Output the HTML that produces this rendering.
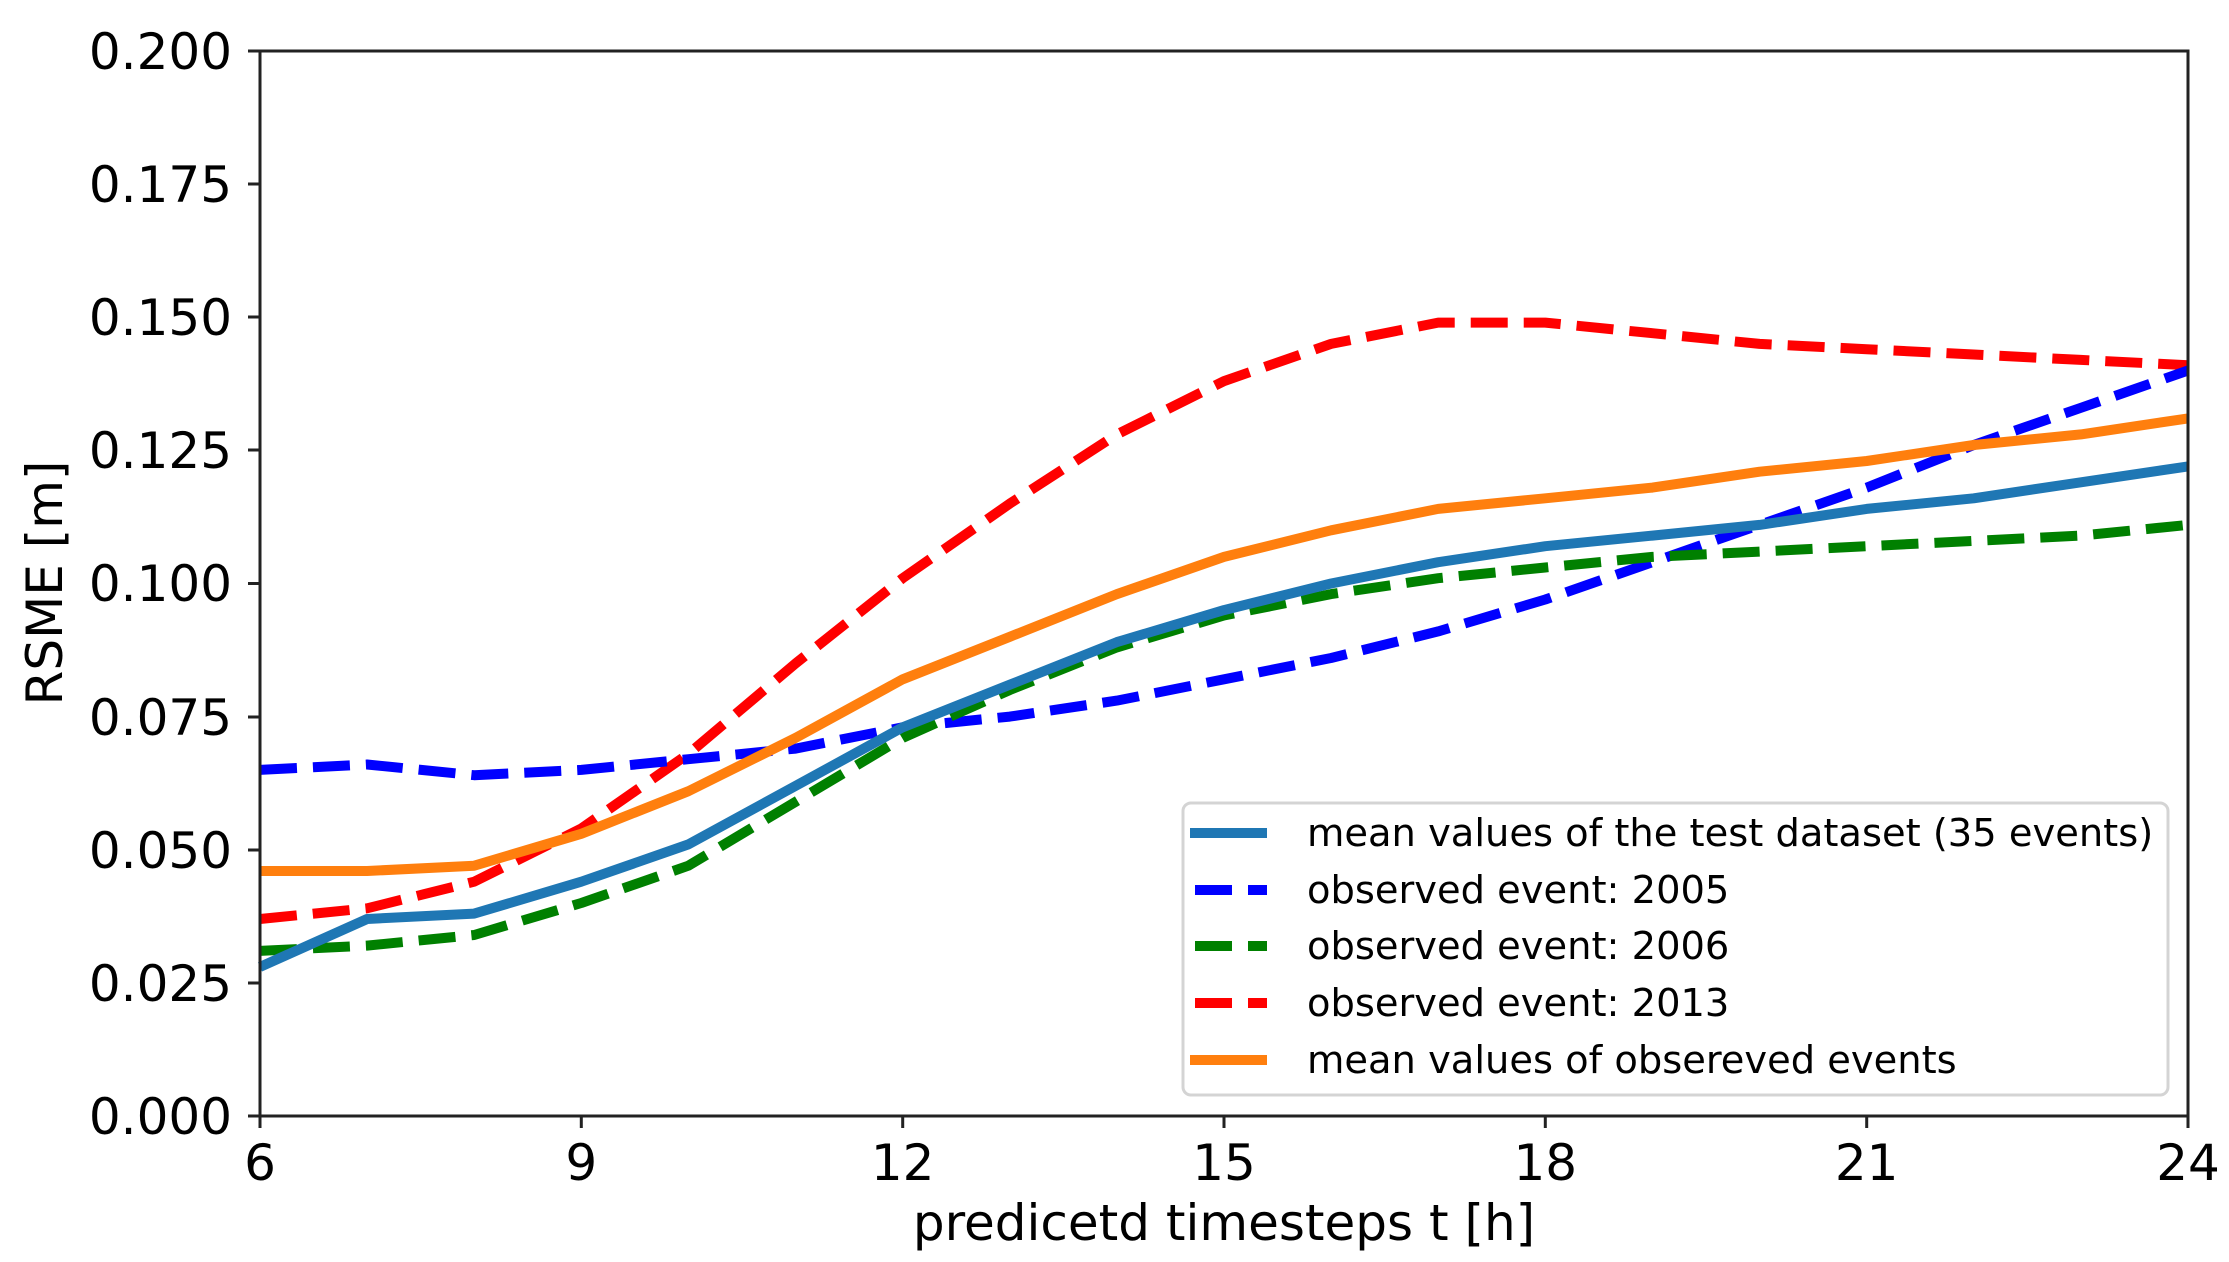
<!DOCTYPE html>
<html><head><meta charset="utf-8"><style>
html,body{margin:0;padding:0;background:#fff;}
svg{display:block;}
text{font-family:"DejaVu Sans","Liberation Sans",sans-serif;fill:#000;}
</style></head><body>
<svg id="s" width="2229" height="1262" viewBox="0 0 2229 1262" xmlns="http://www.w3.org/2000/svg">
<g id="series" fill="none" stroke-width="10"></g>
<rect x="260" y="51" width="1928" height="1065" fill="none" stroke="#222" stroke-width="3"/>
<g stroke="#222" stroke-width="3">
<line x1="248" y1="1116" x2="260" y2="1116"/><line x1="248" y1="983" x2="260" y2="983"/>
<line x1="248" y1="850" x2="260" y2="850"/><line x1="248" y1="717" x2="260" y2="717"/>
<line x1="248" y1="583.5" x2="260" y2="583.5"/><line x1="248" y1="450" x2="260" y2="450"/>
<line x1="248" y1="317" x2="260" y2="317"/><line x1="248" y1="184" x2="260" y2="184"/>
<line x1="248" y1="51" x2="260" y2="51"/>
<line x1="260" y1="1116" x2="260" y2="1128"/><line x1="581.3" y1="1116" x2="581.3" y2="1128"/>
<line x1="902.7" y1="1116" x2="902.7" y2="1128"/><line x1="1224" y1="1116" x2="1224" y2="1128"/>
<line x1="1545.3" y1="1116" x2="1545.3" y2="1128"/><line x1="1866.7" y1="1116" x2="1866.7" y2="1128"/>
<line x1="2188" y1="1116" x2="2188" y2="1128"/>
</g>
<g font-size="50" text-anchor="end">
<text x="232" y="1134">0.000</text><text x="232" y="1001">0.025</text>
<text x="232" y="868">0.050</text><text x="232" y="735">0.075</text>
<text x="232" y="601">0.100</text><text x="232" y="468">0.125</text>
<text x="232" y="335">0.150</text><text x="232" y="202">0.175</text>
<text x="232" y="69">0.200</text>
</g>
<g font-size="50" text-anchor="middle">
<text x="260" y="1180">6</text><text x="581.3" y="1180">9</text>
<text x="902.7" y="1180">12</text><text x="1224" y="1180">15</text>
<text x="1545.3" y="1180">18</text><text x="1866.7" y="1180">21</text>
<text x="2188" y="1180">24</text>
<text x="1224" y="1240">predicetd timesteps t [h]</text>
<text transform="translate(62,583) rotate(-90)">RSME [m]</text>
</g>
<rect x="1183" y="803" width="985" height="292" rx="8" fill="#fff" fill-opacity="0.85" stroke="#d4d4d4" stroke-width="3"/>
<g stroke-width="10">
<line x1="1190" y1="833" x2="1267" y2="833" stroke="#1f77b4"/>
<line x1="1195" y1="890" x2="1267" y2="890" stroke="#0000ff" stroke-dasharray="37,16"/>
<line x1="1195" y1="946" x2="1267" y2="946" stroke="#008000" stroke-dasharray="37,16"/>
<line x1="1195" y1="1003" x2="1267" y2="1003" stroke="#ff0000" stroke-dasharray="37,16"/>
<line x1="1190" y1="1060" x2="1267" y2="1060" stroke="#ff7f0e"/>
</g>
<g font-size="38.4">
<text x="1307" y="846">mean values of the test dataset (35 events)</text>
<text x="1307" y="903">observed event: 2005</text>
<text x="1307" y="959">observed event: 2006</text>
<text x="1307" y="1016">observed event: 2013</text>
<text x="1307" y="1073">mean values of obsereved events</text>
</g>
</svg>
<script>
var D=[
["#ff0000",1,[0.037,0.039,0.044,0.054,0.068,0.085,0.101,0.115,0.128,0.138,0.145,0.149,0.149,0.147,0.145,0.144,0.143,0.142,0.141]],
["#0000ff",1,[0.065,0.066,0.064,0.065,0.067,0.069,0.073,0.075,0.078,0.082,0.086,0.091,0.097,0.104,0.111,0.118,0.126,0.133,0.140]],
["#008000",1,[0.031,0.032,0.034,0.040,0.047,0.059,0.071,0.080,0.088,0.094,0.098,0.101,0.103,0.105,0.106,0.107,0.108,0.109,0.111]],
["#1f77b4",0,[0.028,0.037,0.038,0.044,0.051,0.062,0.073,0.081,0.089,0.095,0.100,0.104,0.107,0.109,0.111,0.114,0.116,0.119,0.122]],
["#ff7f0e",0,[0.046,0.046,0.047,0.053,0.061,0.071,0.082,0.090,0.098,0.105,0.110,0.114,0.116,0.118,0.121,0.123,0.126,0.128,0.131]]
];
var g=document.getElementById("series"),h="";
D.forEach(function(s){
 var p=s[2].map(function(v,i){return (260+i*107.111).toFixed(1)+","+(1116-v*5325).toFixed(1);}).join(" ");
 h+='<polyline points="'+p+'" stroke="'+s[0]+'" stroke-linejoin="round"'+(s[1]?' stroke-dasharray="37,16"':'')+'/>';
});
g.innerHTML=h;
</script>
</body></html>
